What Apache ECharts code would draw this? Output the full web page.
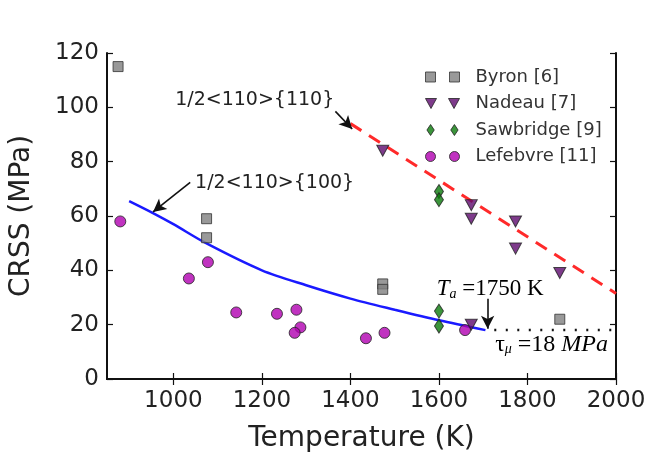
<!DOCTYPE html>
<html>
<head>
<meta charset="utf-8">
<script src="https://cdn.jsdelivr.net/npm/echarts@6/dist/echarts.min.js"></script>
<style>
  html, body { margin: 0; padding: 0; background: #fff; }
  #chart { width: 651px; height: 461px; }
</style>
</head>
<body>
<div id="chart"></div>
<script>
// tick labels
const xTicks = [1000, 1200, 1400, 1600, 1800, 2000];

// measured points (Temperature K, CRSS MPa)
const byron = [[875, 115], [1075, 59], [1075, 52], [1473, 35], [1473, 33], [1873, 22]];
const nadeau = [[1473, 84], [1673, 64], [1673, 59], [1773, 58], [1773, 48], [1873, 39], [1673, 20]];
const sawbridge = [[1600, 69], [1600, 66], [1600, 25], [1600, 19.5]];
const lefebvre = [[880, 58], [1035, 37], [1078, 43], [1142, 24.5], [1234, 24], [1278, 25.5],
  [1287, 19], [1274, 17], [1435, 15], [1477, 17], [1659, 18]];

// model curves
const curve100 = [[900, 65.5], [955, 61], [1000, 57], [1076, 49.8], [1200, 40],
  [1300, 34.5], [1400, 29.6], [1500, 25.5], [1600, 21.6], [1705, 18]];
const line110 = [[1400, 94], [2000, 31.5]];
const tauMu = [[1725, 18], [2000, 18]];

const chart = echarts.init(document.getElementById("chart"));

const font = "DejaVu Sans";
const serif = "Liberation Serif";
const ink = "#222";

// legend icons drawn as two markers, like matplotlib numpoints=2
const icons = {
  square: "path://M0,0h10v10h-10z M24,0h10v10h-10z",
  tri: "path://M0,0h11l-5.5,10z M23,0h11l-5.5,10z",
  diamond: "path://M4,0l4,6l-4,6l-4,-6z M30,0l4,6l-4,6l-4,-6z",
  circle: "path://M0,5a5,5 0 1,0 10,0a5,5 0 1,0 -10,0z M24,5a5,5 0 1,0 10,0a5,5 0 1,0 -10,0z",
};

const tickStyle = { inside: true, length: 6, lineStyle: { color: "#111", width: 1.2 } };
const boxLine = { show: true, lineStyle: { color: "#111", width: 2 } };

const option = {
  animation: false,
  backgroundColor: "#fff",
  grid: { left: 107, right: 35, top: 53, bottom: 82, containLabel: false, outerBoundsMode: "none" },
  xAxis: [
    {
      type: "value",
      min: 850,
      max: 2000,
      position: "bottom",
      name: "Temperature (K)",
      nameLocation: "middle",
      nameGap: 46,
      nameTextStyle: { fontFamily: font, fontSize: 28, color: ink },
      axisLine: boxLine,
      axisTick: { ...tickStyle, customValues: xTicks },
      axisLabel: { customValues: xTicks, formatter: (v) => String(v), fontFamily: font, fontSize: 23, color: ink, margin: 11 },
      splitLine: { show: false },
    },
    {
      type: "value",
      min: 850,
      max: 2000,
      position: "top",
      axisLine: boxLine,
      axisTick: { ...tickStyle, customValues: xTicks },
      axisLabel: { show: false },
      splitLine: { show: false },
    },
  ],
  yAxis: [
    {
      type: "value",
      min: 0,
      max: 120,
      interval: 20,
      position: "left",
      name: "CRSS (MPa)",
      nameLocation: "middle",
      nameGap: 71,
      nameTextStyle: { fontFamily: font, fontSize: 28, color: ink },
      axisLine: boxLine,
      axisTick: { show: true, ...tickStyle },
      axisLabel: { fontFamily: font, fontSize: 23, color: ink, margin: 8 },
      splitLine: { show: false },
    },
    {
      type: "value",
      min: 0,
      max: 120,
      interval: 20,
      position: "right",
      axisLine: boxLine,
      axisTick: { show: true, ...tickStyle },
      axisLabel: { show: false },
      splitLine: { show: false },
    },
  ],
  legend: {
    orient: "vertical",
    left: 425,
    top: 68,
    padding: 0,
    itemWidth: 34,
    itemHeight: 11,
    itemGap: 8.5,
    textStyle: { fontFamily: font, fontSize: 18, lineHeight: 18, color: "#333", padding: [0, 0, 0, 11] },
    data: [
      { name: "Byron [6]", icon: icons.square, itemStyle: { color: "#808080", borderColor: "#333", borderWidth: 1 } },
      { name: "Nadeau [7]", icon: icons.tri, itemStyle: { color: "#5e0a6e", borderColor: "#222", borderWidth: 1 } },
      { name: "Sawbridge [9]", icon: icons.diamond, itemStyle: { color: "#0a7a0a", borderColor: "#222", borderWidth: 1 } },
      { name: "Lefebvre [11]", icon: icons.circle, itemStyle: { color: "#b000b0", borderColor: "#222", borderWidth: 1 } },
    ],
  },
  series: [
    {
      name: "1/2<110>{100}",
      type: "line",
      data: curve100,
      smooth: 0.3,
      showSymbol: false,
      lineStyle: { color: "#1a1aff", width: 2.5 },
      z: 2,
    },
    {
      name: "1/2<110>{110}",
      type: "line",
      data: line110,
      showSymbol: false,
      lineStyle: { color: "#ff2a2a", width: 3, type: [13, 9] },
      z: 2,
    },
    {
      name: "tau",
      type: "line",
      data: tauMu,
      showSymbol: false,
      lineStyle: { color: "#111", width: 2.5, type: [2, 9.5] },
      z: 2,
      markLine: {
        silent: true,
        symbol: ["none", "arrow"],
        symbolSize: [10, 13],
        label: { show: false },
        lineStyle: { color: "#111", width: 1.6, type: "solid" },
        data: [
          [{ coord: [1366, 98.5] }, { coord: [1404, 92] }],
          [{ coord: [1038, 72.4] }, { coord: [954, 61.5] }],
          [{ coord: [1710, 29.5] }, { coord: [1710, 18.5] }],
        ],
      },
    },
    {
      name: "Byron [6]",
      type: "scatter",
      data: byron,
      symbol: "rect",
      symbolSize: 10,
      itemStyle: { color: "#808080", borderColor: "#333", borderWidth: 1 },
      z: 3,
    },
    {
      name: "Nadeau [7]",
      type: "scatter",
      data: nadeau,
      symbol: "triangle",
      symbolRotate: 180,
      symbolSize: [12, 11],
      itemStyle: { color: "#5e0a6e", borderColor: "#222", borderWidth: 1 },
      z: 3,
    },
    {
      name: "Sawbridge [9]",
      type: "scatter",
      data: sawbridge,
      symbol: "diamond",
      symbolSize: [9, 14],
      itemStyle: { color: "#0a7a0a", borderColor: "#222", borderWidth: 1 },
      z: 3,
    },
    {
      name: "Lefebvre [11]",
      type: "scatter",
      data: lefebvre,
      symbol: "circle",
      symbolSize: 11,
      itemStyle: { color: "#b000b0", borderColor: "#222", borderWidth: 1 },
      z: 3,
    },
  ],
};

chart.setOption(option);

// annotation texts anchored in data space
const at = (x, y) => chart.convertToPixel({ xAxisIndex: 0, yAxisIndex: 0 }, [x, y]);
const p110 = at(1004, 102.8);
const p100 = at(1049, 72.2);
const pTa = at(1595, 33.1);
const pTau = at(1727, 12.8);

chart.setOption({
  graphic: [
    {
      type: "text", x: p110[0], y: p110[1], z: 10,
      style: { text: "1/2<110>{110}", font: `19px ${font}`, fill: ink, verticalAlign: "middle" },
    },
    {
      type: "text", x: p100[0], y: p100[1], z: 10,
      style: { text: "1/2<110>{100}", font: `19px ${font}`, fill: ink, verticalAlign: "middle" },
    },
    {
      type: "text", x: pTa[0], y: pTa[1], z: 10,
      style: {
        text: "{i|T}{s|a}{n| =1750 K}",
        verticalAlign: "middle",
        rich: {
          i: { fontFamily: serif, fontStyle: "italic", fontSize: 23, lineHeight: 24, color: ink },
          s: { fontFamily: serif, fontStyle: "italic", fontSize: 14, lineHeight: 14, verticalAlign: "bottom", color: ink },
          n: { fontFamily: serif, fontSize: 23, lineHeight: 24, color: ink },
        },
      },
    },
    {
      type: "text", x: pTau[0], y: pTau[1], z: 10,
      style: {
        text: "{n|τ}{s|μ}{n| =18 }{i|MPa}",
        verticalAlign: "middle",
        rich: {
          n: { fontFamily: serif, fontSize: 24, lineHeight: 24, color: ink },
          s: { fontFamily: serif, fontStyle: "italic", fontSize: 14, lineHeight: 14, verticalAlign: "bottom", color: ink },
          i: { fontFamily: serif, fontStyle: "italic", fontSize: 24, lineHeight: 24, color: ink },
        },
      },
    },
  ],
});
</script>
</body>
</html>
